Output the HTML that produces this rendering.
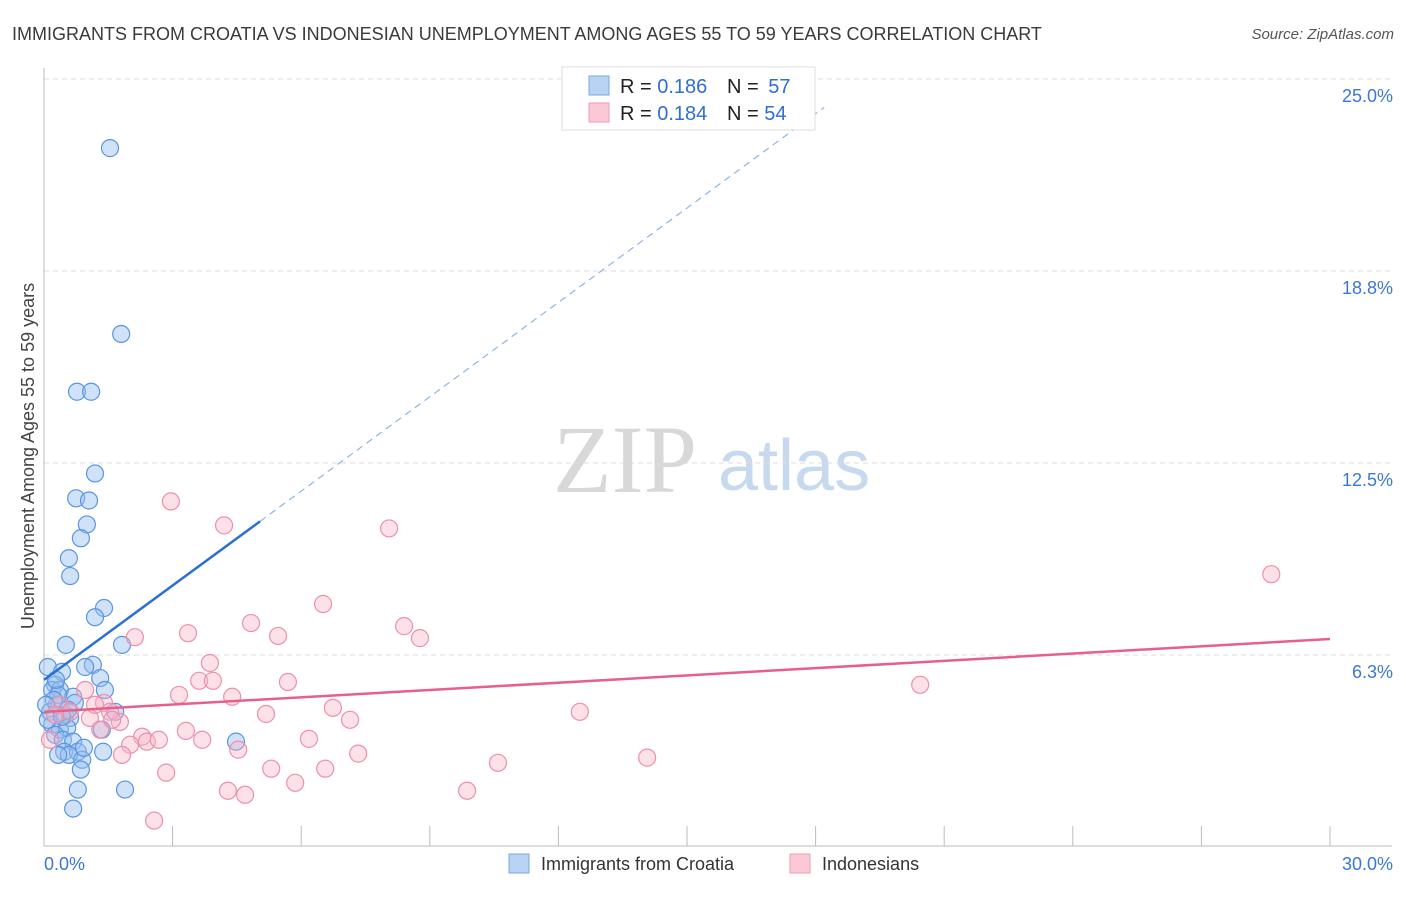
<!DOCTYPE html>
<html><head><meta charset="utf-8"><style>
body{margin:0;background:#fff;font-family:"Liberation Sans",sans-serif;}
svg text{font-family:"Liberation Sans",sans-serif;}
</style></head><body>
<svg id="chart" width="1406" height="892" xmlns="http://www.w3.org/2000/svg">
<text x="12" y="40" font-size="18" fill="#3a3a3a">IMMIGRANTS FROM CROATIA VS INDONESIAN UNEMPLOYMENT AMONG AGES 55 TO 59 YEARS CORRELATION CHART</text>
<text x="1394" y="39" font-size="15" fill="#555" font-style="italic" text-anchor="end">Source: ZipAtlas.com</text>
<g>
<text x="553" y="492" font-size="96" fill="#d8d8d8" font-family="Liberation Serif" style="font-family:'Liberation Serif',serif">ZIP</text>
<text x="718" y="490" font-size="72" fill="#c7d9ee">atlas</text>
</g>
<g id="grid"></g>
<g id="axes"></g>
<g id="marks"></g>
<text transform="translate(34,456) rotate(-90)" font-size="18" fill="#444" text-anchor="middle">Unemployment Among Ages 55 to 59 years</text>
<g>
<rect x="562" y="67" width="253" height="63" fill="#fff" stroke="#ddd"/>
<rect x="589" y="76" width="20" height="19" fill="#b9d3f4" stroke="#7aa7e3"/>
<rect x="589" y="103" width="20" height="19" fill="#fbc8d6" stroke="#f09ab3"/>
<text x="620" y="93" font-size="20" fill="#222">R = <tspan fill="#2f6fd1">0.186</tspan></text>
<text x="727" y="93" font-size="20" fill="#222">N = <tspan fill="#2f6fd1" dx="4">57</tspan></text>
<text x="620" y="120" font-size="20" fill="#222">R = <tspan fill="#2f6fd1">0.184</tspan></text>
<text x="727" y="120" font-size="20" fill="#222">N = <tspan fill="#2f6fd1">54</tspan></text>
</g>
<g>
<rect x="509" y="854" width="20" height="19" fill="#b9d3f4" stroke="#7aa7e3"/>
<text x="541" y="870" font-size="18" fill="#333">Immigrants from Croatia</text>
<rect x="790" y="854" width="20" height="19" fill="#fbc8d6" stroke="#f09ab3"/>
<text x="822" y="870" font-size="18" fill="#333">Indonesians</text>
</g>
</svg>
<script>
const yTicks=[6.25,12.5,18.75,25];
const yTickLabels=["6.3%","12.5%","18.8%","25.0%"];
const xTickValues=[0,3,6,9,12,15,18,21,24,27,30];
const xEndLabels=["0.0%","30.0%"];
const croatiaX=[1.54,1.80,0.77,1.10,1.19,0.75,1.05,1.00,0.86,0.58,0.61,1.40,1.19,0.51,1.82,0.09,0.42,1.14,0.96,1.31,1.42,0.26,0.19,0.37,0.68,0.30,0.72,0.14,0.49,0.61,1.66,0.19,0.37,0.54,1.35,0.26,0.44,0.68,0.47,0.79,1.38,0.58,0.89,0.86,4.48,0.79,1.89,0.68,0.09,0.33,0.56,0.23,0.42,0.05,0.28,0.93,0.33];
const croatiaY=[22.75,16.70,14.82,14.82,12.16,11.35,11.28,10.50,10.05,9.40,8.82,7.78,7.48,6.58,6.58,5.86,5.70,5.93,5.86,5.50,5.11,5.28,5.11,5.11,4.89,4.63,4.69,4.40,4.30,4.20,4.40,3.98,3.82,3.88,3.82,3.65,3.49,3.43,3.10,3.10,3.10,3.00,2.84,2.52,3.43,1.87,1.87,1.25,4.14,4.95,4.47,4.79,4.24,4.63,5.44,3.23,3.00];
const indoX=[2.96,4.20,8.05,28.63,6.51,4.83,8.40,2.12,3.36,5.46,8.77,3.87,3.62,3.94,5.69,0.96,3.15,4.39,20.44,1.40,6.74,5.18,7.14,12.50,1.77,1.07,1.54,3.31,2.29,2.40,2.01,2.68,3.69,6.18,4.53,1.82,7.33,10.59,14.07,2.85,5.30,6.56,5.86,4.29,4.69,9.87,2.57,0.37,0.61,1.19,0.26,1.31,1.59,0.14];
const indoY=[11.25,10.47,10.37,8.88,7.91,7.29,7.19,6.83,6.96,6.87,6.80,5.99,5.41,5.41,5.37,5.11,4.95,4.89,5.28,4.69,4.53,4.33,4.14,4.40,4.07,4.20,4.40,3.78,3.59,3.43,3.33,3.49,3.49,3.52,3.17,3.00,3.04,2.74,2.91,2.42,2.55,2.55,2.09,1.83,1.70,1.83,0.86,4.63,4.40,4.63,4.30,3.82,4.14,3.49];
const croatiaTrend=[5.44,1.024]; // intercept, slope
const croatiaSolidEnd=5.04, croatiaDashEnd=18.2;
const indoTrend=[4.40,0.079];

const NS="http://www.w3.org/2000/svg";
const X0=44,X1=1330,Y0=847,YPER=192/6.25;
function sx(v){return X0+(v/30)*(X1-X0);}
function sy(v){return Y0-v*YPER;}
function mk(tag,attrs,parent){const e=document.createElementNS(NS,tag);for(const k in attrs)e.setAttribute(k,attrs[k]);parent.appendChild(e);return e;}
const grid=document.getElementById('grid'),axes=document.getElementById('axes'),marks=document.getElementById('marks');
yTicks.forEach((t,i)=>{
 const l=mk('line',{x1:44,x2:1392,y1:sy(t),y2:sy(t),stroke:'#ddd','stroke-dasharray':'5,4'},grid);
 
 
 const tx=mk('text',{x:1393,y:sy(t)+23,'font-size':18,fill:'#3b78d0','text-anchor':'end'},axes);
 tx.textContent=yTickLabels[i];
 
 
});
const ya=mk('line',{x1:44,x2:44,y1:68,y2:846,stroke:'#bbb'},axes);


const xa=mk('line',{x1:44,x2:1392,y1:846,y2:846,stroke:'#bbb'},axes);


xTickValues.forEach(v=>{
 const t=mk('line',{x1:sx(v),x2:sx(v),y1:826,y2:846,stroke:'#bbb'},axes);
 
 
});
const xl0=mk('text',{x:44,y:870,'font-size':18,fill:'#3b78d0'},axes);
xl0.textContent=xEndLabels[0];


const xl1=mk('text',{x:1393,y:870,'font-size':18,fill:'#3b78d0','text-anchor':'end'},axes);
xl1.textContent=xEndLabels[1];



croatiaX.forEach((x,i)=>{
 const c=mk('circle',{cx:sx(x),cy:sy(croatiaY[i]),r:8.5,fill:'rgba(150,190,240,0.45)',stroke:'#5a95e0','stroke-width':1.2},marks);
 
 
});
indoX.forEach((x,i)=>{
 const c=mk('circle',{cx:sx(x),cy:sy(indoY[i]),r:8.5,fill:'rgba(248,180,200,0.4)',stroke:'#ee8fab','stroke-width':1.2},marks);
 
 
});
const f=(t,x)=>t[0]+t[1]*x;
const bd=mk('line',{x1:sx(croatiaSolidEnd),y1:sy(f(croatiaTrend,croatiaSolidEnd)),x2:sx(croatiaDashEnd),y2:sy(f(croatiaTrend,croatiaDashEnd)),stroke:'#8fb4e6','stroke-width':1.2,'stroke-dasharray':'7,5'},marks);


const bs=mk('line',{x1:sx(0),y1:sy(f(croatiaTrend,0)),x2:sx(croatiaSolidEnd),y2:sy(f(croatiaTrend,croatiaSolidEnd)),stroke:'#2b6fd6','stroke-width':2.5},marks);


const ps=mk('line',{x1:sx(0),y1:sy(f(indoTrend,0)),x2:sx(30),y2:sy(f(indoTrend,30)),stroke:'#e8608a','stroke-width':2.5},marks);


</script>
</body></html>
